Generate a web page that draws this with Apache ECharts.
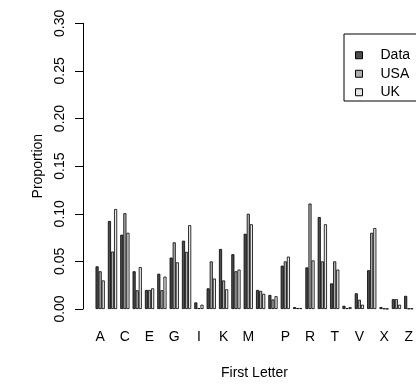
<!DOCTYPE html>
<html>
<head>
<meta charset="utf-8">
<script src="https://cdn.jsdelivr.net/npm/echarts@6/dist/echarts.min.js"></script>
<style>html,body{margin:0;padding:0;background:#fff}#c{width:416px;height:385px}</style>
</head>
<body>
<div id="c"></div>
<script>
var letters = ['A','B','C','D','E','F','G','H','I','J','K','L','M','N','O','P','Q','R','S','T','U','V','W','X','Y','Z'];
var shownLabels = ['A','C','E','G','I','K','M','P','R','T','V','X','Z'];
var dataVals = [0.0448,0.0924,0.078,0.0396,0.020,0.037,0.054,0.0717,0.0069,0.0217,0.063,0.0575,0.079,0.020,0.0148,0.0455,0.002,0.0437,0.0965,0.0269,0.0034,0.0165,0.0407,0.002,0.0103,0.0138];
var usaVals = [0.0396,0.0603,0.1006,0.0196,0.020,0.0197,0.070,0.060,0.001,0.050,0.030,0.0396,0.100,0.019,0.010,0.050,0.001,0.1107,0.050,0.050,0.001,0.0097,0.080,0.0005,0.0103,0.0005];
var ukVals = [0.030,0.105,0.080,0.044,0.0217,0.034,0.049,0.088,0.0045,0.032,0.0207,0.0414,0.089,0.016,0.0134,0.055,0.001,0.051,0.089,0.0414,0.002,0.0045,0.085,0.0003,0.0045,0.0005];
var seriesNames = ['Data','USA','UK'];
var colors = ['#4D4D4D','#AEAEAE','#E6E6E6'];
var yTicks = {min:0, max:0.30, interval:0.05};

var FONT = '"Liberation Sans", Arial, sans-serif';
var FS = 14;
var chart = echarts.init(document.getElementById('c'), null, {renderer:'canvas'});
var vals = [dataVals, usaVals, ukVals];
var option = {
  animation: false,
  backgroundColor: '#fff',
  color: colors,
  textStyle: {fontFamily: FONT},
  grid: {left: 94, right: 0, top: 23.3, bottom: 71.7, containLabel: false},
  graphic: [{
    type: 'rect', left: 341.5, top: 31.5,
    shape: {width: 90, height: 67},
    style: {fill: 'none', stroke: '#000', lineWidth: 1}
  }],
  legend: {
    orient: 'vertical', left: 355, top: 46.5, padding: 0,
    itemWidth: 7, itemHeight: 7, itemGap: 1, icon: 'rect',
    itemStyle: {borderColor: '#000', borderWidth: 1},
    textStyle: {fontSize: FS, color: '#000', fontFamily: FONT, lineHeight: 17.5, padding: [0,0,0,13]},
    data: seriesNames
  },
  xAxis: {
    type: 'category', data: letters,
    axisLine: {show: false}, axisTick: {show: false},
    axisLabel: {interval: 0, margin: 21, fontSize: FS, color: '#000', fontFamily: FONT,
      formatter: function(v){ return shownLabels.indexOf(v) >= 0 ? v : ''; }},
    name: 'First Letter', nameLocation: 'middle', nameGap: 57,
    nameTextStyle: {fontSize: FS, color: '#000', fontFamily: FONT}
  },
  yAxis: {
    type: 'value', min: yTicks.min, max: yTicks.max, interval: yTicks.interval,
    offset: 11,
    axisLine: {show: true, lineStyle: {color: '#000', width: 1}},
    axisTick: {show: true, length: 8, lineStyle: {color: '#000'}},
    splitLine: {show: false},
    axisLabel: {rotate: 90, margin: 16, fontSize: FS, color: '#000', fontFamily: FONT,
      formatter: function(v){ return v.toFixed(2); }},
    name: 'Proportion', nameLocation: 'middle', nameGap: 38,
    nameTextStyle: {fontSize: FS, color: '#000', fontFamily: FONT}
  },
  series: seriesNames.map(function(n, i){
    return {
      name: n, type: 'bar', data: vals[i],
      barGap: '0%', barCategoryGap: '25%',
      itemStyle: {color: colors[i], borderColor: '#000', borderWidth: 0.8}
    };
  })
};
chart.setOption(option);
</script>
</body>
</html>
